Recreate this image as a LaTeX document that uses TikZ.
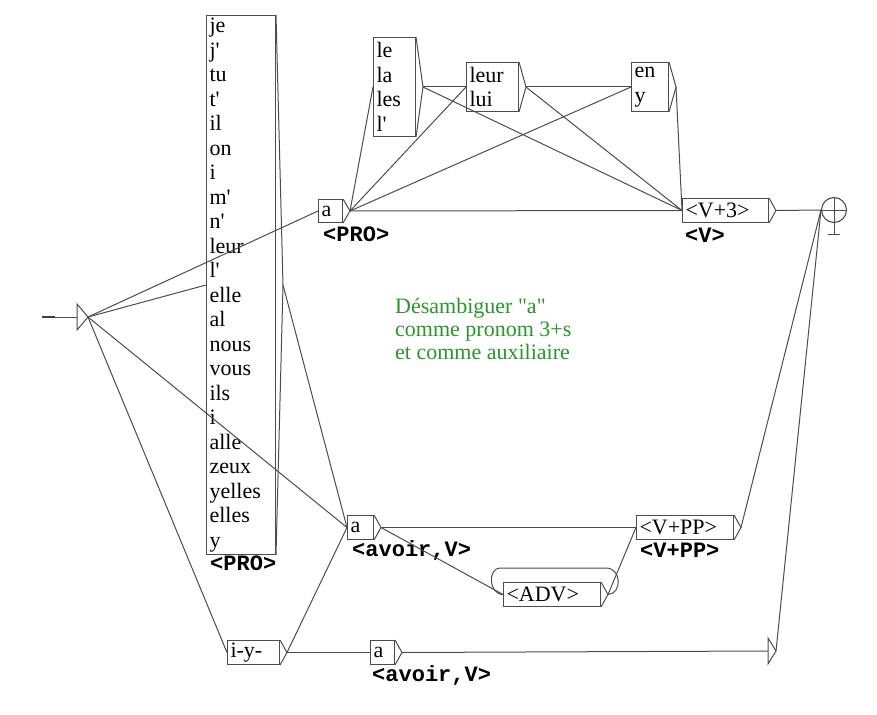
\documentclass[tikz,border=0pt]{standalone}
\usepackage{fontspec}
\setmainfont{Liberation Serif}[Ligatures=TeXOff]
\newfontfamily\monofam{Liberation Mono}[Ligatures=TeXOff]
\newcommand{\boxfont}{\fontsize{22}{24.5}\selectfont}
\newcommand{\lblfont}{\monofam\bfseries\fontsize{22}{24}\selectfont}
\definecolor{cmtgreen}{RGB}{40,150,40}
\tikzset{
  box/.style={draw=black!70, line width=1pt, rectangle, anchor=north west,
    inner xsep=3pt, inner ysep=0pt, align=left, font=\boxfont},
  lbl/.style={anchor=west, inner sep=0pt, font=\lblfont},
  edge/.style={draw=black!70, line width=1pt},
}
\begin{document}
\begin{tikzpicture}[x=1pt, y=-1pt]
  \useasboundingbox (0,0) rectangle (877,714);

  % initial state
  \coordinate (start) at (42,317);
  \coordinate (init) at (88,317);
  \draw[line width=2.2pt, black!75] (start) -- (55,317);
  \draw[edge] (55,317) -- (77,317);
  \draw[edge] (77,304) -- (init) -- (77,330) -- cycle;

  % boxes
  \node[box, text width=63pt, minimum height=539pt] (pron) at (206,15)
    {je\\j'\\tu\\t'\\il\\on\\i\\m'\\n'\\leur\\l'\\elle\\al\\nous\\vous\\ils\\i\\alle\\zeux\\yelles\\elles\\y};
  \node[box, text width=18pt, minimum height=23pt] (apro) at (318,199) {a};
  \node[box, text width=36pt, minimum height=99pt] (le) at (373,37) {le\\la\\les\\l'};
  \node[box, text width=46pt, minimum height=49pt] (leur) at (466,62) {leur\\lui};
  \node[box, text width=31pt, minimum height=49pt] (en) at (631,62) {en\\y};
  \node[box, text width=80pt, minimum height=24pt] (v3) at (682,198) {<V+3>};
  \node[box, text width=20pt, minimum height=24pt] (aav) at (347,515) {a};
  \node[box, text width=91pt, minimum height=24pt] (vpp) at (636,515) {<V+PP>};
  \node[box, text width=91pt, minimum height=24pt] (adv) at (503,582) {<ADV>};
  \node[box, text width=46pt, minimum height=24pt] (iy) at (227,640) {i-y-};
  \node[box, text width=18pt, minimum height=24pt] (abot) at (370,640) {a};

  % output triangles
  \foreach \b in {pron,apro,le,leur,en,v3,aav,vpp,adv,iy,abot}
    \draw[edge] (\b.north east) -- ([xshift=7pt]\b.east) coordinate (\b-o) -- (\b.south east);

  % epsilon box
  \coordinate (eps) at (768,651);
  \draw[edge] (768,638) -- (776,651) coordinate (eps-o) -- (768,664) -- cycle;

  % final state
  \node[circle, draw=black!75, line width=1pt, minimum size=25pt, inner sep=0pt] (fin) at (834,210) {};
  \draw[edge] (fin.west) -- (fin.east);
  \draw[edge] (fin.north) -- (834,234);
  \draw[edge] (828,234) -- (840,234);

  % outputs
  \node[lbl] (pron-l) at (210,563) {<PRO>};
  \node[lbl] (apro-l) at (323,234) {<PRO>};
  \node[lbl] (v3-l) at (685,235) {<V>};
  \node[lbl] (aav-l) at (352,550) {<avoir,V>};
  \node[lbl] (vpp-l) at (640,550) {<V+PP>};
  \node[lbl] (abot-l) at (372,675) {<avoir,V>};

  % transitions
  \foreach \a/\b in {init/pron.west, init/apro.west, init/aav.west, init/iy.west,
      pron-o/aav.west, iy-o/aav.west, iy-o/abot.west,
      apro-o/le.west, apro-o/leur.west, apro-o/en.west, apro-o/v3.west,
      le-o/leur.west, le-o/v3.west, leur-o/en.west, leur-o/v3.west, en-o/v3.west,
      v3-o/fin.west, aav-o/vpp.west, aav-o/adv.west, adv-o/vpp.west,
      vpp-o/fin.west, abot-o/eps, eps-o/fin.west}
    \draw[edge] (\a) -- (\b);
  \draw[edge] (adv-o) .. controls (622,594) and (622,568) .. (606,568)
    -- (500,568) .. controls (488,568) and (488,594) .. (adv.west);

  % comment
  \node[anchor=north west, inner sep=0pt, align=left, text=cmtgreen,
    font=\fontsize{22}{23}\selectfont] (note) at (395,298)
    {Désambiguer "a"\\comme pronom 3+s\\et comme auxiliaire};
\end{tikzpicture}
\end{document}
